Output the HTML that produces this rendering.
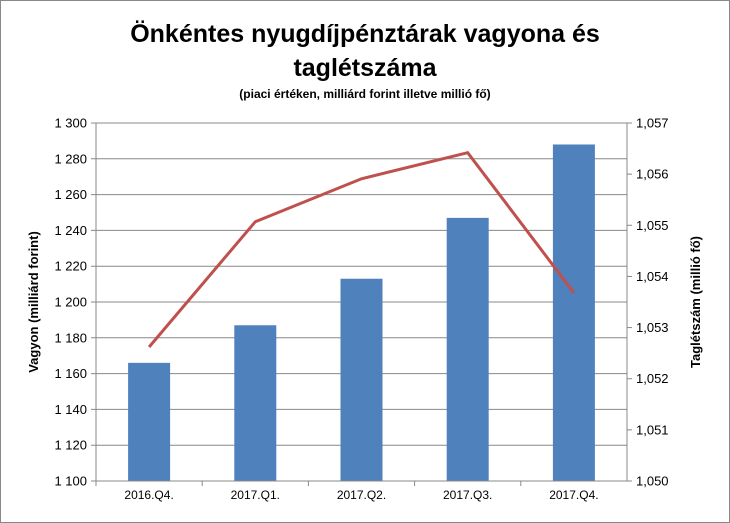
<!DOCTYPE html>
<html><head><meta charset="utf-8"><style>
body{margin:0;background:#fff;}
svg{display:block;font-family:"Liberation Sans",Arial,sans-serif;}
</style></head><body>
<svg id="c" width="730" height="523" viewBox="0 0 730 523">
<rect x="0.5" y="0.5" width="729" height="522" fill="#fff" stroke="#888"/>
<text x="365" y="42" text-anchor="middle" font-size="25" font-weight="bold">Önkéntes nyugdíjpénztárak vagyona és</text>
<text x="365" y="76" text-anchor="middle" font-size="25" font-weight="bold">taglétszáma</text>
<text x="365" y="98" text-anchor="middle" font-size="12" font-weight="bold">(piaci értéken, milliárd forint illetve millió fő)</text>
<text transform="translate(38,302) rotate(-90)" text-anchor="middle" font-size="13" font-weight="bold">Vagyon (milliárd forint)</text>
<text transform="translate(700,302) rotate(-90)" text-anchor="middle" font-size="13" font-weight="bold">Taglétszám (millió fő)</text>
<g id="g"></g>
</svg>
<script>
const categories=["2016.Q4.","2017.Q1.","2017.Q2.","2017.Q3.","2017.Q4."];
const assets=[1166,1187,1213,1247,1288];
const members=[1.05262,1.05507,1.05591,1.05642,1.05368];
const leftTicks=[1100,1120,1140,1160,1180,1200,1220,1240,1260,1280,1300];
const rightTicks=[1.050,1.051,1.052,1.053,1.054,1.055,1.056,1.057];
const L=96,R=627,T=123,B=481;
const yL=v=>B-(v-1100)/200*(B-T);
const yR=v=>B-(v-1.050)/0.007*(B-T);
const bw=(R-L)/categories.length;
const xC=i=>L+bw*(i+0.5);
const g=document.getElementById('g');
const NS="http://www.w3.org/2000/svg";
function mk(t,a,txt){const e=document.createElementNS(NS,t);for(const k in a)e.setAttribute(k,a[k]);if(txt!=null)e.textContent=txt;g.appendChild(e);return e;}
leftTicks.forEach(v=>{
 const y=yL(v);
 const l=mk('line',{x1:L-5,x2:R,y1:y,y2:y,stroke:'#888','stroke-width':1});
 
 
 const t=mk('text',{x:L-9,y:y+4.5,'text-anchor':'end','font-size':13},String(v).replace(/^(\d)(\d{3})$/,'$1 $2'));
 
 
});
rightTicks.forEach(v=>{
 const y=yR(v);
 const l=mk('line',{x1:R,x2:R+5,y1:y,y2:y,stroke:'#888'});
 
 
 const t=mk('text',{x:R+9,y:y+4.5,'font-size':13},v.toFixed(3).replace('.',','));
 
 
});
assets.forEach((v,i)=>{
 const r=mk('rect',{x:xC(i)-21,y:yL(v),width:42,height:B-yL(v),fill:'#4f81bd'});
 
 
});
categories.forEach((c,i)=>{
 const t=mk('text',{x:xC(i),y:B+18,'text-anchor':'middle','font-size':12},c);
 
 
 const k=mk('line',{x1:L+bw*i,x2:L+bw*i,y1:B,y2:B+5,stroke:'#888'});
 
 
});
const ax=mk('path',{d:`M${L},${T}V${B}H${R}V${T}`,fill:'none',stroke:'#888'});


const ln=mk('polyline',{points:members.map((v,i)=>xC(i)+','+yR(v)).join(' '),fill:'none',stroke:'#c0504d','stroke-width':3});


</script>
</body></html>
